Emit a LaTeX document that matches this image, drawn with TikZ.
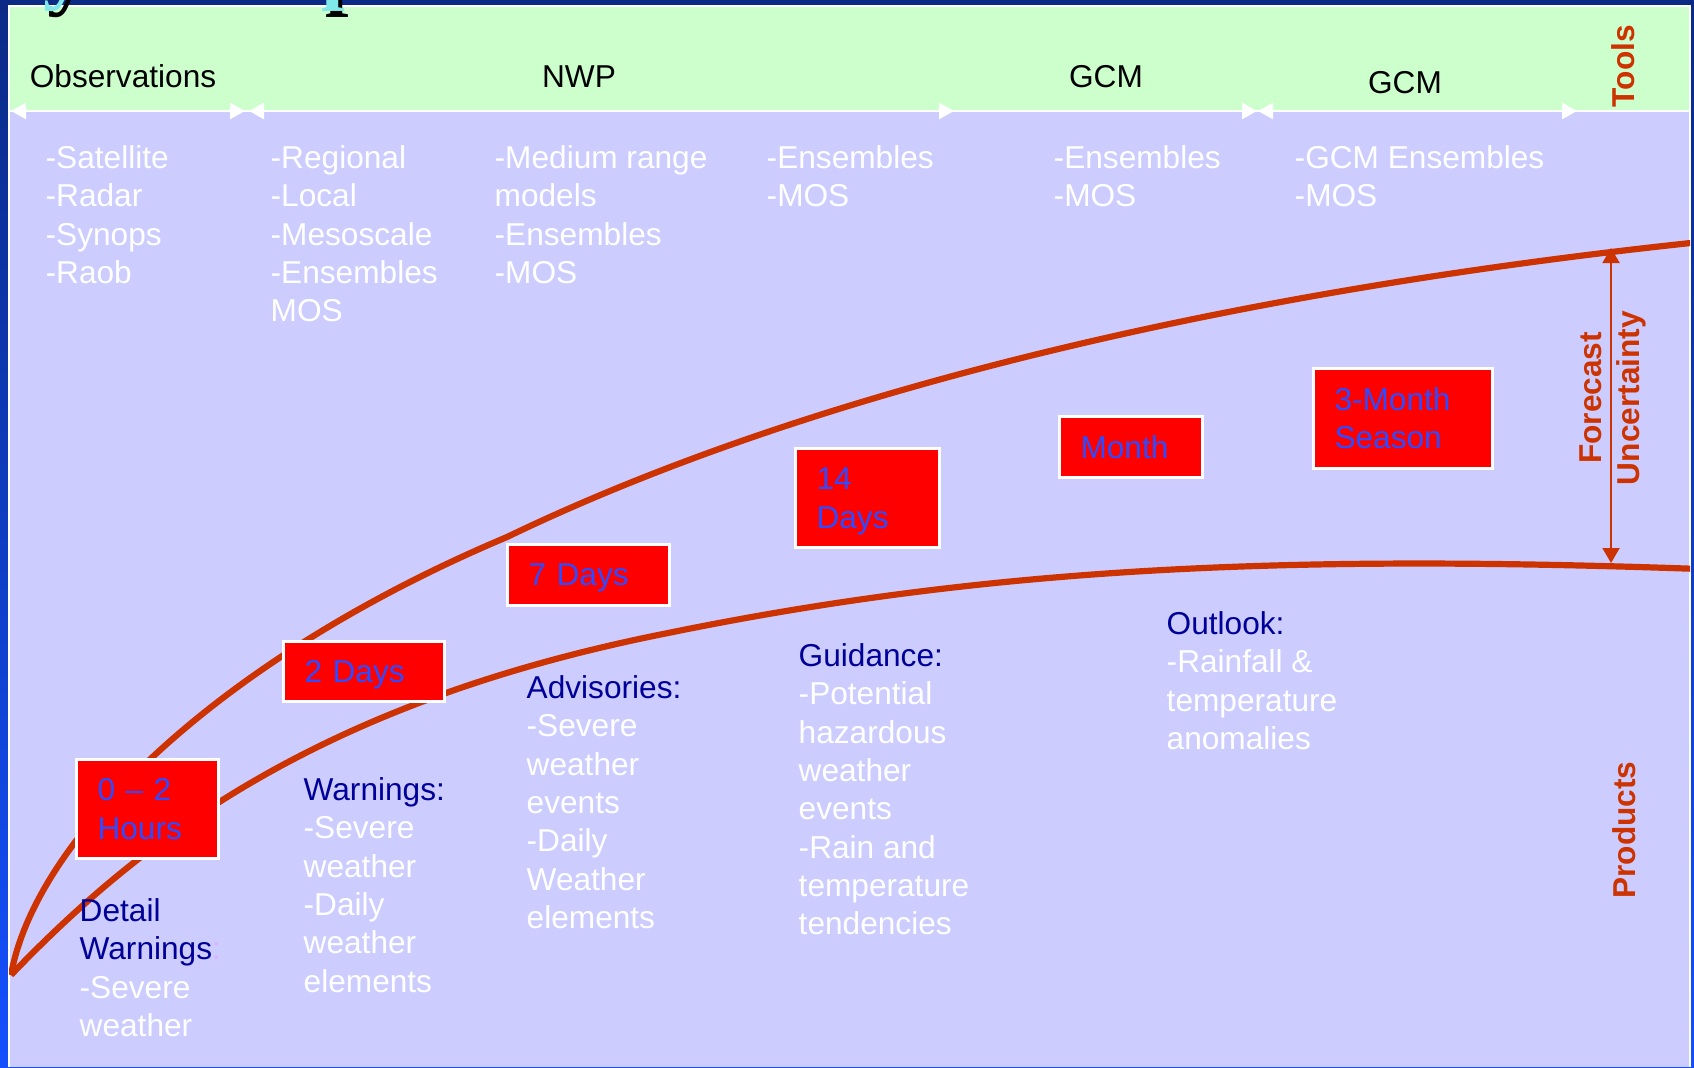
\documentclass[tikz,border=0pt]{standalone}
\usepackage{fontspec}
\setmainfont{Liberation Sans}
\newfontfamily\titlefont{Liberation Serif}
\usepackage{xcolor}
\usetikzlibrary{arrows.meta}

\definecolor{slidenavy}{HTML}{0A2A85}
\definecolor{slideblue}{HTML}{1450FF}
\definecolor{toolgreen}{HTML}{CCFFCC}
\definecolor{prodlav}{HTML}{CCCCFF}
\definecolor{curvered}{HTML}{CC3300}
\definecolor{boxblue}{HTML}{2E4BFF}
\definecolor{headblue}{HTML}{000099}
\definecolor{titlecyan}{HTML}{80E8E8}
\definecolor{faintlilac}{HTML}{D9B3FF}

\newcommand\slidefont{\fontsize{9}{10.9}\selectfont}

\begin{document}
\begin{tikzpicture}[
  x=0.1mm, y=-0.1mm,
  txt/.style={font=\slidefont, align=left, anchor=north west, inner sep=0pt},
  tool/.style={txt, text=white},
  band/.style={font=\slidefont, anchor=base, inner sep=0pt},
  side/.style={font=\slidefont\bfseries, text=curvered, rotate=90,
               align=center, inner sep=0pt},
  tbox/.style={draw=white, line width=0.3mm, fill=red, text=boxblue,
               font=\slidefont, align=left, anchor=north west,
               inner xsep=2.1mm, inner ysep=0pt},
  curve/.style={curvered, line width=0.62mm, line join=round},
  span/.style={white, line width=0.25mm,
               {Triangle[length=1.5mm,width=1.6mm]}-{Triangle[length=1.5mm,width=1.6mm]}},
  fcarrow/.style={curvered, line width=0.2mm,
               {Triangle[length=1.5mm,width=1.7mm]}-{Triangle[length=1.5mm,width=1.7mm]}},
  glyph/.style={font=\titlefont\bfseries\fontsize{24}{24}\selectfont,
               anchor=base west, inner sep=0pt}
]
\useasboundingbox (0,0) rectangle (1694,1067);
% slide background and the two bands
\shade[top color=slidenavy, bottom color=slideblue] (0,0) rectangle (1694,1067);
\fill[prodlav] (9,6) rectangle (1690,1067);
\fill[toolgreen] (9,6) rectangle (1690,111);
\draw[white, line width=0.15mm] (9,1067) -- (9,6) -- (1690,6) -- (1690,1067);
\draw[white, line width=0.25mm] (9,111) -- (1690,111);

% descenders of the title line above
\begin{scope}
  \clip (0,0) rectangle (1694,40);
  \node[glyph, text=black]      (ty0) at (47,-1) {y};
  \node[glyph, text=titlecyan]  (ty)  at (43,-6) {y};
  \node[glyph, text=black]      (tp0) at (325,-1) {p};
  \node[glyph, text=titlecyan]  (tp)  at (321,-6) {p};
\end{scope}

% tool ranges
\coordinate (o1) at (11,111);   \coordinate (o2) at (245,111);
\coordinate (n1) at (249,111);  \coordinate (n2) at (954,111);
\coordinate (g2) at (1257,111);
\coordinate (s1) at (1258,111); \coordinate (s2) at (1577,111);
\draw[span] (o1) -- (o2);
\draw[span] (n1) -- (n2);
\draw[white, line width=0.25mm, -{Triangle[length=1.5mm,width=1.6mm]}] (n2) -- (g2);
\draw[span] (s1) -- (s2);

\node[band] (obs) at (123,87)  {Observations};
\node[band] (nwp) at (579,87)  {NWP};
\node[band] (gcm) at (1106,87) {GCM};
\node[band] (gcs) at (1405,93) {GCM};

\node[tool] (obsl) at (45,145)   {-Satellite\\-Radar\\-Synops\\-Raob};
\node[tool] (regl) at (270,145)  {-Regional\\-Local\\-Mesoscale\\-Ensembles\\MOS};
\node[tool] (medl) at (494,145)  {-Medium range\\models\\-Ensembles\\-MOS};
\node[tool] (ensl) at (766,145)  {-Ensembles\\-MOS};
\node[tool] (gcml) at (1053,145) {-Ensembles\\-MOS};
\node[tool] (seal) at (1294,145) {-GCM Ensembles\\-MOS};

% uncertainty envelope
\begin{scope}
  \clip (9,6) rectangle (1690,1067);
  \draw[curve] (11,975) .. controls (35,840) and (215,660) .. (507,537)
               .. controls (760,415) and (1150,300) .. (1700,242);
  \draw[curve] (11,975) .. controls (150,830) and (330,700) .. (668,633)
               .. controls (1000,565) and (1300,555) .. (1700,569);
\end{scope}

% forecast ranges
\node[tbox, text width=10mm,   minimum height=9.9mm]  (hrs) at (75,758)   {0 -- 2\\Hours};
\node[tbox, text width=11.9mm, minimum height=6mm, text depth=0pt]   (d2)  at (282,640) {2 Days};
\node[tbox, text width=12mm,   minimum height=6.1mm, text depth=0pt] (d7)  at (506,543) {7 Days};
\node[tbox, text width=10.2mm, minimum height=9.9mm, text depth=10.9pt] (d14) at (794,447) {14\\Days};
\node[tbox, text width=10.1mm, minimum height=6.1mm]  (mon) at (1058,415) {Month};
\node[tbox, text width=13.7mm, minimum height=10mm]   (ssn) at (1312,367) {3-Month\\Season};

% products
\node[tool] (detp)  at (79,898)   {\textcolor{headblue}{Detail}\\\textcolor{headblue}{Warnings}\textcolor{faintlilac}{:}\\-Severe\\weather};
\node[tool] (warnp) at (303,777)  {\textcolor{headblue}{Warnings:}\\-Severe\\weather\\-Daily\\weather\\elements};
\node[tool] (advp)  at (526,675)  {\textcolor{headblue}{Advisories:}\\-Severe\\weather\\events\\-Daily\\Weather\\elements};
\node[tool] (guidp) at (798,643)  {\textcolor{headblue}{Guidance:}\\-Potential\\hazardous\\weather\\events\\-Rain and\\temperature\\tendencies};
\node[tool] (outp)  at (1166,611) {\textcolor{headblue}{Outlook:}\\-Rainfall \&\\temperature\\anomalies};

% side labels
\coordinate (fut) at (1611,248);
\coordinate (fub) at (1611,563);
\draw[fcarrow] (fut) -- (fub);
\node[side] (tools) at (1623,66)  {Tools};
\node[side] (unc)   at (1613,398) {Forecast\\Uncertainty};
\node[side] (prods) at (1624,830) {Products};
\end{tikzpicture}
\end{document}
